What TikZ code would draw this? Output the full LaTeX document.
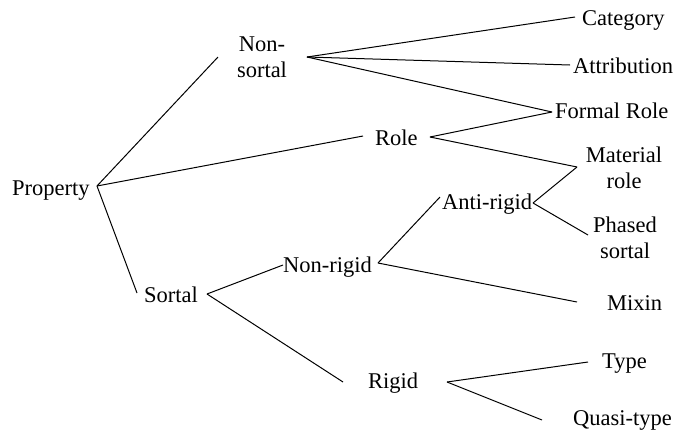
\documentclass[tikz,border=0pt]{standalone}
\usepackage{fontspec}
\setmainfont{Liberation Serif}
\begin{document}
\begin{tikzpicture}[x=1pt,y=-1pt,
  lbl/.style={inner sep=0pt,font=\fontsize{22.5}{26}\selectfont},
  lbl2/.style={lbl,align=center,anchor=north},
  edge/.style={line width=1pt}]
\useasboundingbox (0,0) rectangle (685,432);

% labels
\node[lbl,anchor=base west] (property) at (12,195) {Property};
\node[lbl2] (nonsortal) at (262,37) {Non-\\sortal};
\node[lbl,anchor=base west] (category) at (582,25) {Category};
\node[lbl,anchor=base west] (attribution) at (573,73) {Attribution};
\node[lbl,anchor=base west] (formal) at (555,118) {Formal Role};
\node[lbl,anchor=base west] (role) at (375,145) {Role};
\node[lbl2] (material) at (624,147) {Material\\role};
\node[lbl,anchor=base west] (antirigid) at (442,209) {Anti-rigid};
\node[lbl2] (phased) at (625,217) {Phased\\sortal};
\node[lbl,anchor=base west] (nonrigid) at (283,272) {Non-rigid};
\node[lbl,anchor=base west] (mixin) at (607,310) {Mixin};
\node[lbl,anchor=base west] (sortal) at (144,302) {Sortal};
\node[lbl,anchor=base west] (rigid) at (368,388) {Rigid};
\node[lbl,anchor=base west] (type) at (602,368) {Type};
\node[lbl,anchor=base west] (quasi) at (573,425) {Quasi-type};

% connector end points beside the labels
\coordinate (property-r) at (97,186);
\coordinate (nonsortal-l) at (218,57);
\coordinate (nonsortal-r) at (307,57);
\coordinate (category-l) at (575,17);
\coordinate (attribution-l) at (570,65);
\coordinate (formal-l) at (552,112);
\coordinate (role-l) at (363,136);
\coordinate (role-r) at (430,137);
\coordinate (material-l) at (577,167);
\coordinate (antirigid-l) at (440,197);
\coordinate (antirigid-r) at (533,203);
\coordinate (phased-l) at (588,235);
\coordinate (nonrigid-l) at (283,265);
\coordinate (nonrigid-r) at (378,263);
\coordinate (mixin-l) at (577,302);
\coordinate (sortal-l) at (137,293);
\coordinate (sortal-r) at (207,294);
\coordinate (rigid-l) at (343,382);
\coordinate (rigid-r) at (447,382);
\coordinate (type-l) at (588,362);
\coordinate (quasi-l) at (542,420);

% tree branches
\draw[edge] (property-r) -- (nonsortal-l);
\draw[edge] (property-r) -- (role-l);
\draw[edge] (property-r) -- (sortal-l);
\draw[edge] (nonsortal-r) -- (category-l);
\draw[edge] (nonsortal-r) -- (attribution-l);
\draw[edge] (nonsortal-r) -- (formal-l);
\draw[edge] (role-r) -- (formal-l);
\draw[edge] (role-r) -- (material-l);
\draw[edge] (antirigid-r) -- (material-l);
\draw[edge] (antirigid-r) -- (phased-l);
\draw[edge] (nonrigid-r) -- (antirigid-l);
\draw[edge] (nonrigid-r) -- (mixin-l);
\draw[edge] (sortal-r) -- (nonrigid-l);
\draw[edge] (sortal-r) -- (rigid-l);
\draw[edge] (rigid-r) -- (type-l);
\draw[edge] (rigid-r) -- (quasi-l);
\end{tikzpicture}
\end{document}
